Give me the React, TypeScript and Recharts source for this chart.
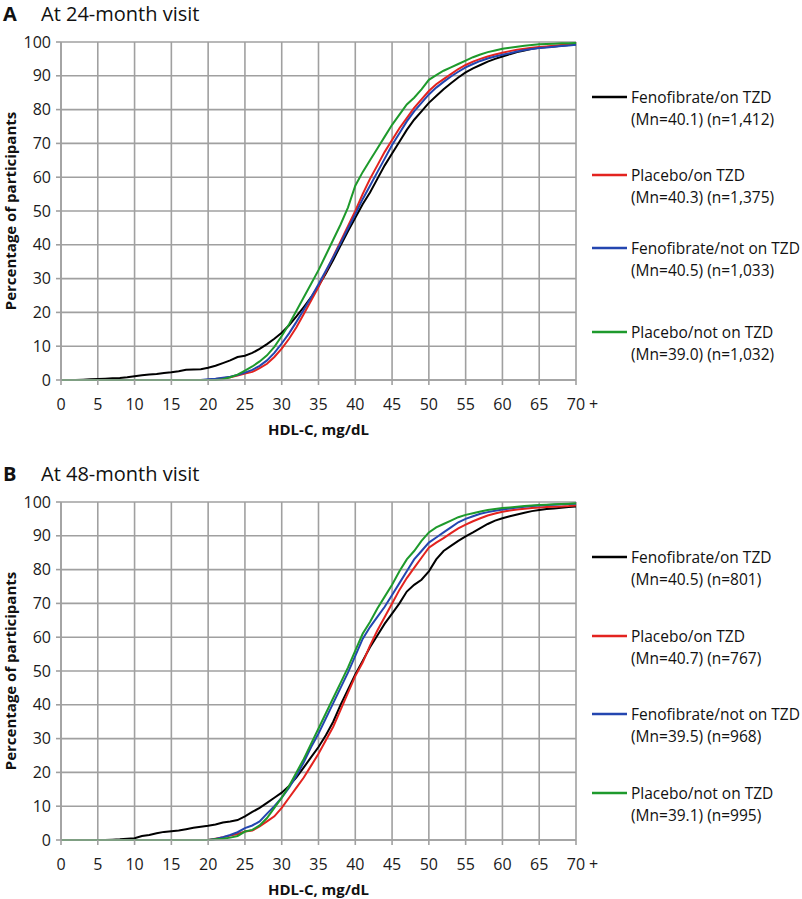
import React from 'react';
import { LineChart, Line, XAxis, YAxis, CartesianGrid } from 'recharts';

// HDL-C categories (mg/dL), 70 = "70 +"
const hdl = [
  0, 1, 2, 3, 4, 5, 6, 7, 8, 9, 10, 11, 12, 13, 14, 15, 16, 17, 18, 19,
  20, 21, 22, 23, 24, 25, 26, 27, 28, 29, 30, 31, 32, 33, 34, 35, 36, 37, 38, 39,
  40, 41, 42, 43, 44, 45, 46, 47, 48, 49, 50, 51, 52, 53, 54, 55, 56, 57, 58, 59,
  60, 61, 62, 63, 64, 65, 66, 67, 68, 69, 70,
];
const xTicks = [0, 5, 10, 15, 20, 25, 30, 35, 40, 45, 50, 55, 60, 65, 70];
const yTicks = [0, 10, 20, 30, 40, 50, 60, 70, 80, 90, 100];

const seriesNames = ['Fenofibrate/on TZD', 'Placebo/on TZD', 'Fenofibrate/not on TZD', 'Placebo/not on TZD'];
const seriesColors = ['#000000', '#e3231f', '#2446b0', '#1e9a2c'];

// Panel A: 24-month visit
const a24FenoOnTzd = [
  0, 0, 0, 0.1, 0.2, 0.3, 0.4, 0.5, 0.6, 0.8,
  1.1, 1.4, 1.6, 1.8, 2.1, 2.3, 2.6, 3.0, 3.1, 3.2,
  3.6, 4.2, 5.0, 5.8, 6.8, 7.2, 8.0, 9.2, 10.6, 12.2,
  14.0, 16.2, 18.8, 21.6, 24.5, 27.8, 31.5, 35.5, 39.8, 44.0,
  48.0, 52.0, 55.5, 59.5, 63.5, 67.0, 70.5, 74.0, 77.0, 79.5,
  82.0, 84.0, 86.0, 87.8, 89.5, 91.0, 92.2, 93.2, 94.2, 95.0,
  95.7, 96.4, 97.0, 97.5, 98.0, 98.3, 98.5, 98.7, 98.9, 99.1,
  99.3,
];
const a24PlacOnTzd = [
  0, 0, 0, 0, 0, 0, 0, 0, 0, 0,
  0, 0, 0, 0, 0, 0, 0, 0, 0, 0,
  0.1, 0.3, 0.5, 0.8, 1.3, 1.9, 2.4, 3.5, 4.8, 6.8,
  9.3, 12.2, 15.6, 19.5, 23.5, 27.5, 32.0, 36.5, 41.0, 45.5,
  50.0, 55.0, 59.5, 63.5, 67.5, 71.0, 74.5, 77.5, 80.5, 83.0,
  85.5, 87.5, 89.0, 90.5, 92.0, 93.2, 94.2, 95.0, 95.7, 96.3,
  96.8, 97.3, 97.7, 98.0, 98.3, 98.5, 98.7, 98.9, 99.1, 99.3,
  99.5,
];
const a24FenoNotTzd = [
  0, 0, 0, 0, 0, 0, 0, 0, 0, 0,
  0, 0, 0, 0, 0, 0, 0, 0, 0, 0,
  0.2, 0.4, 0.7, 1.0, 1.5, 2.2, 3.0, 4.2, 5.8, 8.0,
  10.8, 13.8, 17.2, 20.8, 24.5, 28.3, 32.3, 36.3, 40.5, 44.8,
  49.0, 53.5, 57.5, 61.5, 65.5, 69.5, 73.0, 76.5, 79.5, 82.0,
  84.5, 86.5, 88.2, 89.8, 91.2, 92.5, 93.5, 94.4, 95.1, 95.7,
  96.2, 96.7, 97.2, 97.6, 97.9, 98.2, 98.4, 98.6, 98.8, 99.0,
  99.2,
];
const a24PlacNotTzd = [
  0, 0, 0, 0, 0, 0, 0, 0, 0, 0,
  0, 0, 0, 0, 0, 0, 0, 0, 0, 0,
  0, 0, 0.2, 0.8, 1.6, 2.8, 4.0, 5.5, 7.3, 9.8,
  13.0, 16.5, 20.5, 24.5, 28.5, 32.5, 37.0, 41.5, 46.0, 51.0,
  57.5, 61.5, 65.0, 68.5, 72.0, 75.5, 78.5, 81.5, 83.5, 86.0,
  88.8, 90.2, 91.5, 92.5, 93.5, 94.5, 95.5, 96.3, 97.0, 97.5,
  98.0, 98.3, 98.6, 98.9, 99.1, 99.3, 99.4, 99.5, 99.6, 99.6,
  99.7,
];
const a24Stats = ['(Mn=40.1) (n=1,412)', '(Mn=40.3) (n=1,375)', '(Mn=40.5) (n=1,033)', '(Mn=39.0) (n=1,032)'];

// Panel B: 48-month visit
const b48FenoOnTzd = [
  0, 0, 0, 0, 0, 0, 0, 0.1, 0.2, 0.4,
  0.5, 1.2, 1.5, 2.0, 2.4, 2.6, 2.8, 3.2, 3.6, 3.9,
  4.2, 4.6, 5.2, 5.5, 5.9, 7.0, 8.3, 9.5, 11.0, 12.5,
  14.0, 16.0, 18.5, 21.5, 24.5, 27.5, 31.0, 35.0, 40.0, 44.5,
  49.0, 53.0, 57.0, 60.5, 64.0, 67.0, 70.0, 73.5, 75.5, 77.0,
  79.5, 83.0, 85.5, 87.0, 88.5, 89.8, 91.0, 92.3, 93.5, 94.5,
  95.2, 95.8, 96.3, 96.8, 97.3, 97.6, 97.9, 98.1, 98.3, 98.5,
  98.7,
];
const b48PlacOnTzd = [
  0, 0, 0, 0, 0, 0, 0, 0, 0, 0,
  0, 0, 0, 0, 0, 0, 0, 0, 0, 0,
  0, 0.4, 0.8, 1.3, 1.8, 2.5, 2.8, 4.0, 5.5, 7.0,
  9.5, 12.5, 15.5, 18.5, 22.0, 25.5, 29.5, 33.5, 38.5, 43.5,
  48.5, 52.5, 57.5, 62.0, 66.0, 70.0, 74.0, 77.5, 80.5, 83.5,
  86.5, 88.0, 89.3, 90.8, 92.2, 93.3, 94.3, 95.2, 96.0, 96.6,
  97.1, 97.5, 97.8, 98.0, 98.2, 98.4, 98.5, 98.6, 98.7, 98.8,
  99.0,
];
const b48FenoNotTzd = [
  0, 0, 0, 0, 0, 0, 0, 0, 0, 0,
  0, 0, 0, 0, 0, 0, 0, 0, 0, 0,
  0, 0.3, 0.8, 1.5, 2.3, 3.5, 4.3, 5.5, 7.8, 10.0,
  12.5, 15.5, 19.0, 23.0, 27.5, 31.5, 36.0, 40.5, 45.0, 49.5,
  54.5, 59.5, 63.0, 66.0, 69.0, 72.5, 76.0, 79.5, 83.0, 85.5,
  88.0, 89.5, 91.0, 92.5, 94.0, 95.0, 95.8, 96.5, 97.0, 97.4,
  97.8, 98.1, 98.4, 98.6, 98.8, 99.0, 99.1, 99.2, 99.3, 99.4,
  99.5,
];
const b48PlacNotTzd = [
  0, 0, 0, 0, 0, 0, 0, 0, 0, 0,
  0, 0, 0, 0, 0, 0, 0, 0, 0, 0,
  0, 0.2, 0.4, 0.7, 1.2, 2.5, 3.0, 4.3, 6.5, 9.5,
  12.5, 16.0, 20.0, 24.0, 28.5, 33.0, 37.5, 42.0, 46.5, 51.0,
  56.0, 61.0, 64.5, 68.5, 72.0, 75.5, 79.5, 83.0, 85.5, 88.5,
  91.0, 92.5, 93.5, 94.5, 95.5, 96.2, 96.7, 97.2, 97.6, 97.9,
  98.2, 98.4, 98.6, 98.8, 99.0, 99.1, 99.2, 99.3, 99.4, 99.5,
  99.6,
];
const b48Stats = ['(Mn=40.5) (n=801)', '(Mn=40.7) (n=767)', '(Mn=39.5) (n=968)', '(Mn=39.1) (n=995)'];

const FONT = '"Open Sans", "Noto Sans", sans-serif';
const GRID = '#a0a0a0';

const buildRows = (series: number[][]) =>
  hdl.map((x, i) => {
    const row: any = { x };
    series.forEach((s, k) => {
      row['s' + k] = s[i];
    });
    return row;
  });

const XTick = (props: any) => {
  const { x, y, payload } = props;
  const v = payload.value;
  return (
    <g>
      <text x={x} y={y} dy={11.5} textAnchor="middle" fontSize={16} fontFamily={FONT} fill="#1a1a1a">
        {String(v)}
      </text>
      {v === 70 && (
        <text x={x + 13} y={y} dy={11.5} textAnchor="start" fontSize={16} fontFamily={FONT} fill="#1a1a1a">
          +
        </text>
      )}
    </g>
  );
};

const YLabel = (props: any) => {
  const vb = props.viewBox || { x: 0, y: 42, width: 61, height: 338 };
  const cy = vb.y + vb.height / 2;
  const cx = 16;
  return (
    <text
      x={cx}
      y={cy}
      transform={`rotate(-90, ${cx}, ${cy})`}
      textAnchor="middle"
      fontSize={15}
      fontWeight="bold"
      fontFamily={FONT}
      fill="#111"
    >
      Percentage of participants
    </text>
  );
};

const legendRows = [
  [55, 133, 206, 290],
  [55, 134, 212, 291],
];

type PanelProps = {
  top: number;
  letter: string;
  title: string;
  series: number[][];
  stats: string[];
  legendIdx: number;
};

const Panel = ({ top, letter, title, series, stats, legendIdx }: PanelProps) => {
  const rows = buildRows(series);
  const plotTop = 42;
  return (
    <div style={{ position: 'absolute', left: 0, top, width: 802, height: 450 }}>
      <LineChart width={802} height={450} data={rows} margin={{ top: plotTop, right: 226, bottom: 0, left: 0 }}>
        <CartesianGrid stroke={GRID} strokeWidth={1.6} horizontal vertical />
        <XAxis
          dataKey="x"
          type="number"
          domain={[0, 70]}
          ticks={xTicks}
          interval={0}
          height={70}
          tickSize={5}
          tickMargin={13}
          axisLine={{ stroke: GRID, strokeWidth: 1.6 }}
          tickLine={{ stroke: GRID, strokeWidth: 1.6 }}
          tick={<XTick />}
          label={{
            value: 'HDL-C, mg/dL',
            position: 'insideBottom',
            offset: 15,
            style: { fontSize: 15, fontWeight: 'bold', fontFamily: FONT, fill: '#111' },
          }}
        />
        <YAxis
          type="number"
          domain={[0, 100]}
          ticks={yTicks}
          interval={0}
          width={61}
          tickSize={5}
          tickMargin={5}
          axisLine={{ stroke: GRID, strokeWidth: 1.6 }}
          tickLine={{ stroke: GRID, strokeWidth: 1.6 }}
          tick={{ fontSize: 16, fontFamily: FONT, fill: '#1a1a1a' }}
          label={{ content: <YLabel /> } as any}
        />
        {series.map((_, k) => (
          <Line
            key={k}
            type="linear"
            dataKey={'s' + k}
            name={seriesNames[k]}
            stroke={seriesColors[k]}
            strokeWidth={2}
            dot={false}
            activeDot={false}
            isAnimationActive={false}
          />
        ))}
      </LineChart>
      <svg width={802} height={450} style={{ position: 'absolute', left: 0, top: 0, pointerEvents: 'none' }}>
        <text x={3} y={21} fontSize={20} fontWeight="bold" fontFamily={FONT} fill="#111">
          {letter}
        </text>
        <text x={41} y={21} fontSize={20} fontFamily={FONT} fill="#111">
          {title}
        </text>
        {series.map((_, k) => {
          const cy = plotTop + legendRows[legendIdx][k];
          return (
            <g key={k}>
              <line x1={592} x2={627} y1={cy} y2={cy} stroke={seriesColors[k]} strokeWidth={2.5} />
              <text x={631} y={cy} dy={5.5} fontSize={15.5} fontFamily={FONT} fill="#111">
                {seriesNames[k]}
              </text>
              <text x={631} y={cy + 22} dy={5.5} fontSize={15.5} fontFamily={FONT} fill="#111">
                {stats[k]}
              </text>
            </g>
          );
        })}
      </svg>
    </div>
  );
}

export default function App() {
  return (
    <div style={{ position: 'absolute', left: 0, top: 0, width: 802, height: 899, background: '#fff' }}>
      <Panel
        top={0}
        letter="A"
        title="At 24-month visit"
        series={[a24FenoOnTzd, a24PlacOnTzd, a24FenoNotTzd, a24PlacNotTzd]}
        stats={a24Stats}
        legendIdx={0}
      />
      <Panel
        top={460}
        letter="B"
        title="At 48-month visit"
        series={[b48FenoOnTzd, b48PlacOnTzd, b48FenoNotTzd, b48PlacNotTzd]}
        stats={b48Stats}
        legendIdx={1}
      />
    </div>
  );
}
